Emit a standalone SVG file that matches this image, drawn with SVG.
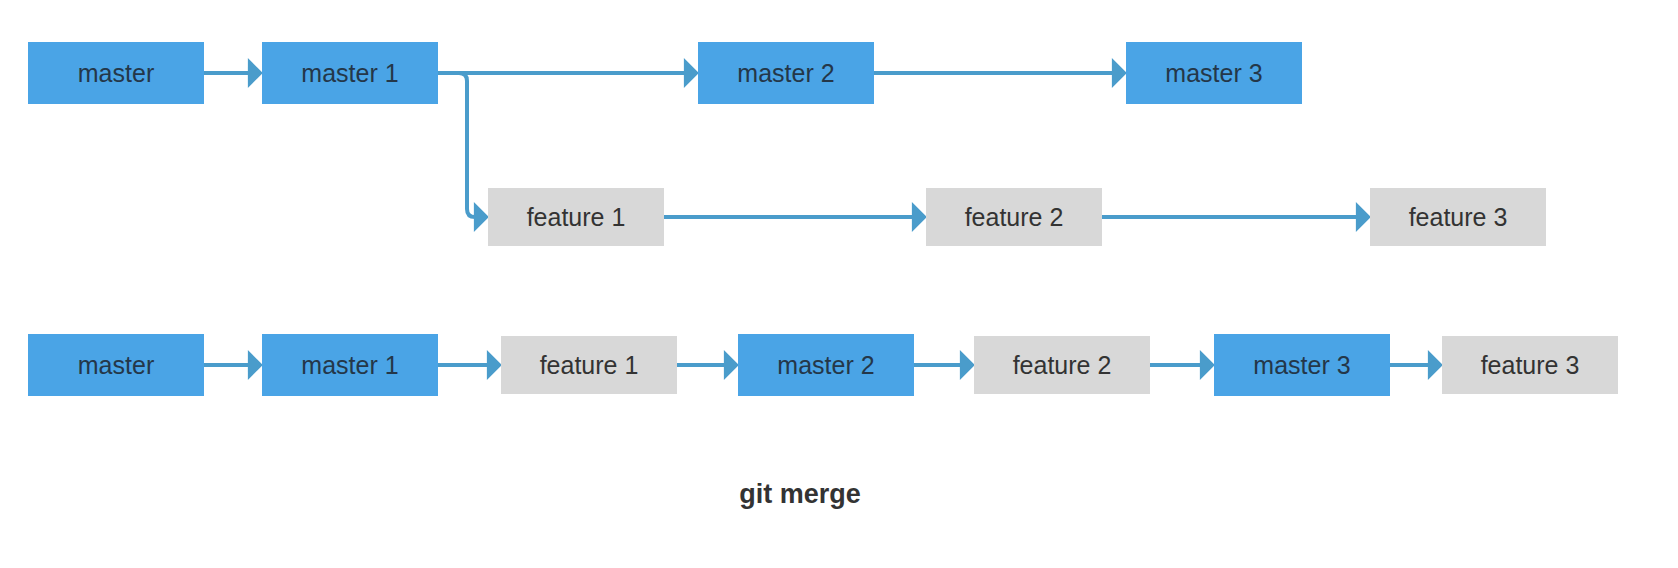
<svg xmlns="http://www.w3.org/2000/svg" width="1678" height="568" viewBox="0 0 1678 568">
<style>
.m rect{fill:#4aa4e6}
.f rect{fill:#d8d8d8}
text{font-family:"Liberation Sans",Arial,sans-serif;font-size:25px;text-anchor:middle}
.m text{fill:#243749}
.f text{fill:#333333}
.c path{fill:none;stroke:#4a9ccb;stroke-width:4}
.t{font-weight:bold;font-size:27px;fill:#333333}
</style>
<defs>
<marker id="ah" markerUnits="userSpaceOnUse" markerWidth="16" markerHeight="30" viewBox="0 0 14 28" refX="2" refY="14" orient="auto">
<path d="M0,0 L14,14 L0,28 z" fill="#4a9ccb"/>
</marker>
</defs>
<rect width="1678" height="568" fill="#ffffff"/>
<g class="c">
<path d="M204,73 H250" marker-end="url(#ah)"/>
<path d="M438,73 H686" marker-end="url(#ah)"/>
<path d="M874,73 H1114" marker-end="url(#ah)"/>
<path d="M455,73 H459 Q467,73 467,81 V209 Q467,217 475,217 H476" marker-end="url(#ah)"/>
<path d="M664,217 H914" marker-end="url(#ah)"/>
<path d="M1101,217 H1358" marker-end="url(#ah)"/>
<path d="M204,365 H250" marker-end="url(#ah)"/>
<path d="M438,365 H489" marker-end="url(#ah)"/>
<path d="M677,365 H726" marker-end="url(#ah)"/>
<path d="M914,365 H962" marker-end="url(#ah)"/>
<path d="M1150,365 H1202" marker-end="url(#ah)"/>
<path d="M1390,365 H1430" marker-end="url(#ah)"/>
</g>
<g id="r1-master" class="m"><rect x="28" y="42" width="176" height="62"/><text x="116" y="82">master</text></g>
<g id="r1-master1" class="m"><rect x="262" y="42" width="176" height="62"/><text x="350" y="82">master 1</text></g>
<g id="r1-master2" class="m"><rect x="698" y="42" width="176" height="62"/><text x="786" y="82">master 2</text></g>
<g id="r1-master3" class="m"><rect x="1126" y="42" width="176" height="62"/><text x="1214" y="82">master 3</text></g>
<g id="r2-feature1" class="f"><rect x="488" y="188" width="176" height="58"/><text x="576" y="226">feature 1</text></g>
<g id="r2-feature2" class="f"><rect x="926" y="188" width="176" height="58"/><text x="1014" y="226">feature 2</text></g>
<g id="r2-feature3" class="f"><rect x="1370" y="188" width="176" height="58"/><text x="1458" y="226">feature 3</text></g>
<g id="r3-master" class="m"><rect x="28" y="334" width="176" height="62"/><text x="116" y="374">master</text></g>
<g id="r3-master1" class="m"><rect x="262" y="334" width="176" height="62"/><text x="350" y="374">master 1</text></g>
<g id="r3-feature1" class="f"><rect x="501" y="336" width="176" height="58"/><text x="589" y="374">feature 1</text></g>
<g id="r3-master2" class="m"><rect x="738" y="334" width="176" height="62"/><text x="826" y="374">master 2</text></g>
<g id="r3-feature2" class="f"><rect x="974" y="336" width="176" height="58"/><text x="1062" y="374">feature 2</text></g>
<g id="r3-master3" class="m"><rect x="1214" y="334" width="176" height="62"/><text x="1302" y="374">master 3</text></g>
<g id="r3-feature3" class="f"><rect x="1442" y="336" width="176" height="58"/><text x="1530" y="374">feature 3</text></g>
<text class="t" x="800" y="503">git merge</text>
</svg>
